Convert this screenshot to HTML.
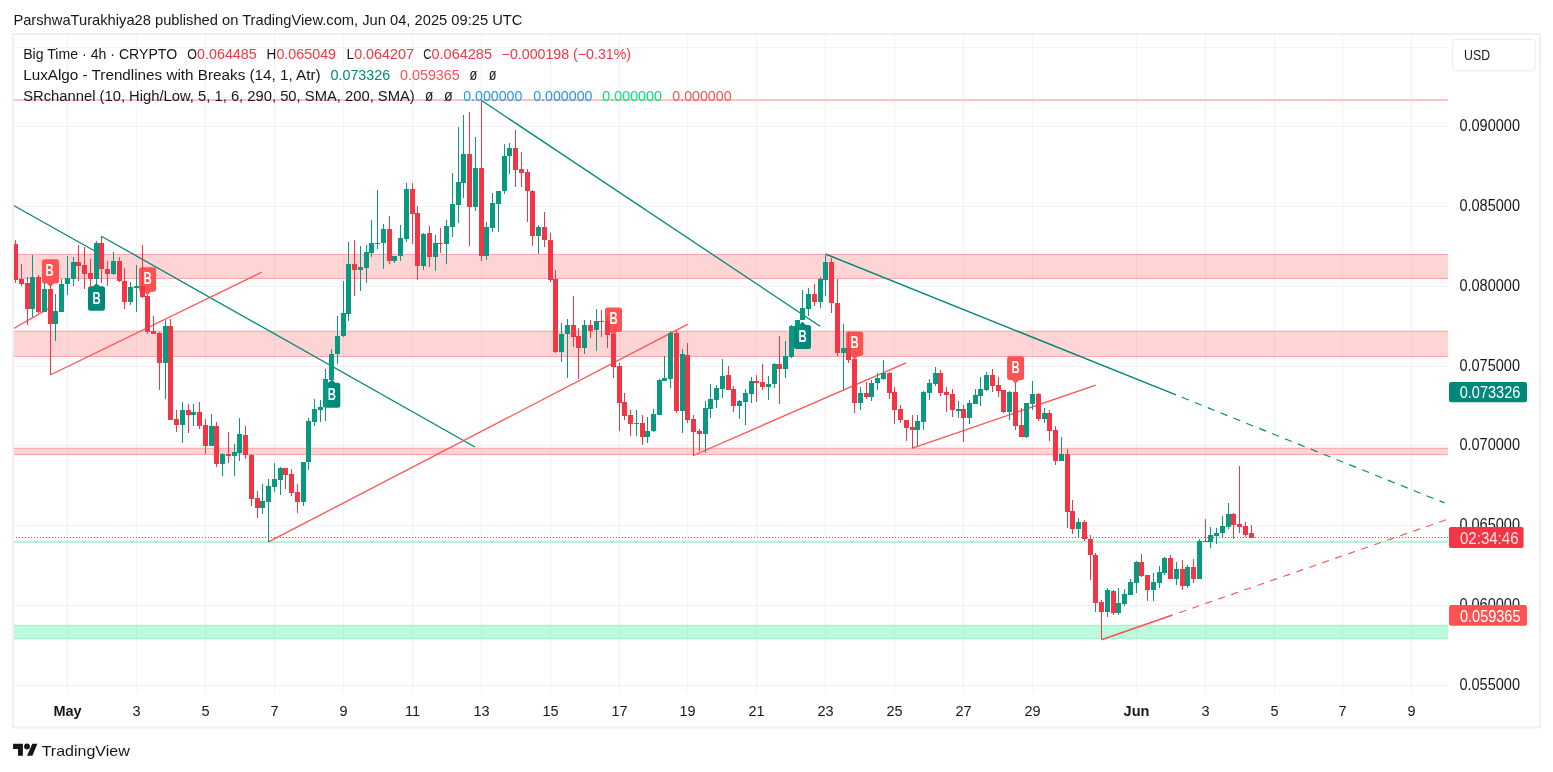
<!DOCTYPE html>
<html><head><meta charset="utf-8"><title>Chart</title><style>html,body{margin:0;padding:0;background:#fff}body{width:1553px;height:772px;overflow:hidden}svg{will-change:transform}</style></head><body>
<svg width="1553" height="772" viewBox="0 0 1553 772" style="display:block">
<rect width="1553" height="772" fill="#fff"/>
<g stroke="rgba(19,23,34,0.052)" stroke-width="1" shape-rendering="crispEdges">
<line x1="67.5" y1="34" x2="67.5" y2="693"/>
<line x1="136.5" y1="34" x2="136.5" y2="693"/>
<line x1="205.5" y1="34" x2="205.5" y2="693"/>
<line x1="274.5" y1="34" x2="274.5" y2="693"/>
<line x1="343.5" y1="34" x2="343.5" y2="693"/>
<line x1="412.5" y1="34" x2="412.5" y2="693"/>
<line x1="481.5" y1="34" x2="481.5" y2="693"/>
<line x1="550.5" y1="34" x2="550.5" y2="693"/>
<line x1="619.5" y1="34" x2="619.5" y2="693"/>
<line x1="687.5" y1="34" x2="687.5" y2="693"/>
<line x1="756.5" y1="34" x2="756.5" y2="693"/>
<line x1="825.5" y1="34" x2="825.5" y2="693"/>
<line x1="894.5" y1="34" x2="894.5" y2="693"/>
<line x1="963.5" y1="34" x2="963.5" y2="693"/>
<line x1="1032.5" y1="34" x2="1032.5" y2="693"/>
<line x1="1136.5" y1="34" x2="1136.5" y2="693"/>
<line x1="1205.5" y1="34" x2="1205.5" y2="693"/>
<line x1="1274.5" y1="34" x2="1274.5" y2="693"/>
<line x1="1342.5" y1="34" x2="1342.5" y2="693"/>
<line x1="1411.5" y1="34" x2="1411.5" y2="693"/>
<line x1="13" y1="47.5" x2="1448" y2="47.5"/>
<line x1="13" y1="126.5" x2="1448" y2="126.5"/>
<line x1="13" y1="206.5" x2="1448" y2="206.5"/>
<line x1="13" y1="286.5" x2="1448" y2="286.5"/>
<line x1="13" y1="366.5" x2="1448" y2="366.5"/>
<line x1="13" y1="445.5" x2="1448" y2="445.5"/>
<line x1="13" y1="525.5" x2="1448" y2="525.5"/>
<line x1="13" y1="605.5" x2="1448" y2="605.5"/>
<line x1="13" y1="685.5" x2="1448" y2="685.5"/>
</g>
<rect x="13" y="99" width="1435" height="2" fill="#fbc3c3"/>
<rect x="13" y="254.5" width="1435" height="24.0" fill="rgba(255,82,82,0.25)"/>
<line x1="13" y1="254.5" x2="1448" y2="254.5" stroke="rgba(255,82,82,0.45)" stroke-width="1"/>
<line x1="13" y1="278.5" x2="1448" y2="278.5" stroke="rgba(255,82,82,0.45)" stroke-width="1"/>
<rect x="13" y="331.2" width="1435" height="25.30000000000001" fill="rgba(255,82,82,0.25)"/>
<line x1="13" y1="331.2" x2="1448" y2="331.2" stroke="rgba(255,82,82,0.45)" stroke-width="1"/>
<line x1="13" y1="356.5" x2="1448" y2="356.5" stroke="rgba(255,82,82,0.45)" stroke-width="1"/>
<rect x="13" y="448.2" width="1435" height="6.400000000000034" fill="rgba(255,82,82,0.25)"/>
<line x1="13" y1="448.2" x2="1448" y2="448.2" stroke="rgba(255,82,82,0.45)" stroke-width="1"/>
<line x1="13" y1="454.6" x2="1448" y2="454.6" stroke="rgba(255,82,82,0.45)" stroke-width="1"/>
<rect x="13" y="541" width="1435" height="2" fill="#b7f5d8"/>
<rect x="13" y="625.3" width="1435" height="13.400000000000091" fill="rgba(0,230,118,0.26)"/>
<line x1="13" y1="625.3" x2="1448" y2="625.3" stroke="rgba(0,230,118,0.3)" stroke-width="1"/>
<line x1="13" y1="638.7" x2="1448" y2="638.7" stroke="rgba(0,230,118,0.3)" stroke-width="1"/>
<line x1="13.2" y1="205.3" x2="97" y2="252.2" stroke="#00897b" stroke-width="1.3"/>
<line x1="101.4" y1="236.2" x2="475" y2="447" stroke="#00897b" stroke-width="1.3"/>
<line x1="481.6" y1="100.5" x2="820.1" y2="326.2" stroke="#00897b" stroke-width="1.3"/>
<line x1="825.5" y1="254" x2="1176" y2="394.95" stroke="#00897b" stroke-width="1.45"/>
<line x1="1181.9" y1="397.3" x2="1444.5" y2="502.9" stroke="#00897b" stroke-width="1.15" stroke-dasharray="7.4 6.48"/>
<line x1="12.9" y1="329" x2="50.25" y2="307.6" stroke="#ff5252" stroke-width="1.3"/>
<line x1="50.25" y1="375" x2="262" y2="272" stroke="#ff5252" stroke-width="1.3"/>
<line x1="268.5" y1="541.9" x2="688" y2="324.2" stroke="#ff5252" stroke-width="1.3"/>
<line x1="693.3" y1="455.5" x2="906" y2="362.8" stroke="#ff5252" stroke-width="1.3"/>
<line x1="911.7" y1="448.4" x2="1095.8" y2="385.1" stroke="#ff5252" stroke-width="1.3"/>
<line x1="1101.5" y1="639.8" x2="1172.6" y2="615.0" stroke="#ff5252" stroke-width="1.7"/>
<line x1="1179.3" y1="612.7" x2="1446" y2="519.8" stroke="#ff5252" stroke-width="1.15" stroke-dasharray="7.2 6.56"/>
<path d="M44.5,259.2 H56.5 Q59.0,259.2 59.0,261.7 V281.0 Q59.0,283.5 56.5,283.5 H54.0 L50.5,287 L47.0,283.5 H44.5 Q42.0,283.5 42.0,281.0 V261.7 Q42.0,259.2 44.5,259.2 Z" fill="#ff5252" fill-opacity="1"/>
<text x="45.5" y="275.65000000000003" font-family="Liberation Sans, sans-serif" font-size="16" font-weight="bold" fill="#fff" textLength="8.2" lengthAdjust="spacingAndGlyphs">B</text>
<path d="M141.6,267.2 H153.6 Q156.1,267.2 156.1,269.7 V289.2 Q156.1,291.7 153.6,291.7 H151.1 L147.6,295 L144.1,291.7 H141.6 Q139.1,291.7 139.1,289.2 V269.7 Q139.1,267.2 141.6,267.2 Z" fill="#ff5252" fill-opacity="1"/>
<text x="143.5" y="283.75" font-family="Liberation Sans, sans-serif" font-size="16" font-weight="bold" fill="#fff" textLength="8.2" lengthAdjust="spacingAndGlyphs">B</text>
<path d="M607.5,307.4 H619.5 Q622.0,307.4 622.0,309.9 V329.5 Q622.0,332 619.5,332 H617.0 L613.5,335.5 L610.0,332 H607.5 Q605.0,332 605.0,329.5 V309.9 Q605.0,307.4 607.5,307.4 Z" fill="#ff5252" fill-opacity="1"/>
<text x="609.4" y="324.0" font-family="Liberation Sans, sans-serif" font-size="16" font-weight="bold" fill="#fff" textLength="8.2" lengthAdjust="spacingAndGlyphs">B</text>
<path d="M848.6,331.4 H860.6 Q863.1,331.4 863.1,333.9 V353.4 Q863.1,355.9 860.6,355.9 H858.1 L854.6,359.4 L851.1,355.9 H848.6 Q846.1,355.9 846.1,353.4 V333.9 Q846.1,331.4 848.6,331.4 Z" fill="#ff5252" fill-opacity="1"/>
<text x="850.5" y="347.95" font-family="Liberation Sans, sans-serif" font-size="16" font-weight="bold" fill="#fff" textLength="8.2" lengthAdjust="spacingAndGlyphs">B</text>
<path d="M1009.6,356.3 H1021.5999999999999 Q1024.1,356.3 1024.1,358.8 V377.6 Q1024.1,380.1 1021.5999999999999,380.1 H1019.1 L1015.6,383.6 L1012.1,380.1 H1009.6 Q1007.1,380.1 1007.1,377.6 V358.8 Q1007.1,356.3 1009.6,356.3 Z" fill="#ff5252" fill-opacity="1"/>
<text x="1011.5" y="372.50000000000006" font-family="Liberation Sans, sans-serif" font-size="16" font-weight="bold" fill="#fff" textLength="8.2" lengthAdjust="spacingAndGlyphs">B</text>
<path d="M90.5,286.3 H93.0 L96.5,283.5 L100.0,286.3 H102.5 Q105.0,286.3 105.0,288.8 V308.2 Q105.0,310.7 102.5,310.7 H90.5 Q88.0,310.7 88.0,308.2 V288.8 Q88.0,286.3 90.5,286.3 Z" fill="#00897b" fill-opacity="1"/>
<text x="92.4" y="303.5" font-family="Liberation Sans, sans-serif" font-size="16" font-weight="bold" fill="#fff" textLength="8.2" lengthAdjust="spacingAndGlyphs">B</text>
<path d="M325.8,382.8 H328.3 L331.8,379.5 L335.3,382.8 H337.8 Q340.3,382.8 340.3,385.3 V405.2 Q340.3,407.7 337.8,407.7 H325.8 Q323.3,407.7 323.3,405.2 V385.3 Q323.3,382.8 325.8,382.8 Z" fill="#00897b" fill-opacity="1"/>
<text x="327.7" y="400.25" font-family="Liberation Sans, sans-serif" font-size="16" font-weight="bold" fill="#fff" textLength="8.2" lengthAdjust="spacingAndGlyphs">B</text>
<path d="M796.5,325 H799.0 L802.5,321.8 L806.0,325 H808.5 Q811.0,325 811.0,327.5 V346.5 Q811.0,349 808.5,349 H796.5 Q794.0,349 794.0,346.5 V327.5 Q794.0,325 796.5,325 Z" fill="#00897b" fill-opacity="1"/>
<text x="798.4" y="342.0" font-family="Liberation Sans, sans-serif" font-size="16" font-weight="bold" fill="#fff" textLength="8.2" lengthAdjust="spacingAndGlyphs">B</text>
<g shape-rendering="crispEdges">
<rect x="15" y="240" width="1" height="43" fill="#f23645"/>
<rect x="13" y="244" width="5" height="36" fill="#f23645"/>
<rect x="21" y="264" width="1" height="22" fill="#f23645"/>
<rect x="19" y="279" width="5" height="5" fill="#f23645"/>
<rect x="27" y="277" width="1" height="48" fill="#f23645"/>
<rect x="25" y="283" width="5" height="26" fill="#f23645"/>
<rect x="32" y="255" width="1" height="62" fill="#089981"/>
<rect x="30" y="277" width="5" height="32" fill="#089981"/>
<rect x="38" y="275" width="1" height="38" fill="#f23645"/>
<rect x="36" y="277" width="5" height="35" fill="#f23645"/>
<rect x="44" y="283" width="1" height="29" fill="#089981"/>
<rect x="42" y="289" width="5" height="23" fill="#089981"/>
<rect x="50" y="286" width="1" height="89" fill="#f23645"/>
<rect x="48" y="289" width="5" height="35" fill="#f23645"/>
<rect x="55" y="294" width="1" height="47" fill="#089981"/>
<rect x="53" y="311" width="5" height="13" fill="#089981"/>
<rect x="61" y="279" width="1" height="33" fill="#089981"/>
<rect x="59" y="284" width="5" height="28" fill="#089981"/>
<rect x="67" y="256" width="1" height="39" fill="#089981"/>
<rect x="65" y="278" width="5" height="6" fill="#089981"/>
<rect x="73" y="257" width="1" height="29" fill="#089981"/>
<rect x="71" y="262" width="5" height="17" fill="#089981"/>
<rect x="78" y="245" width="1" height="36" fill="#f23645"/>
<rect x="76" y="262" width="5" height="4" fill="#f23645"/>
<rect x="84" y="247" width="1" height="42" fill="#f23645"/>
<rect x="82" y="265" width="5" height="9" fill="#f23645"/>
<rect x="90" y="259" width="1" height="29" fill="#f23645"/>
<rect x="88" y="273" width="5" height="6" fill="#f23645"/>
<rect x="96" y="241" width="1" height="43" fill="#089981"/>
<rect x="94" y="243" width="5" height="36" fill="#089981"/>
<rect x="101" y="236" width="1" height="47" fill="#f23645"/>
<rect x="99" y="243" width="5" height="26" fill="#f23645"/>
<rect x="107" y="261" width="1" height="25" fill="#f23645"/>
<rect x="105" y="269" width="5" height="5" fill="#f23645"/>
<rect x="113" y="252" width="1" height="23" fill="#089981"/>
<rect x="111" y="261" width="5" height="13" fill="#089981"/>
<rect x="119" y="257" width="1" height="25" fill="#f23645"/>
<rect x="117" y="261" width="5" height="20" fill="#f23645"/>
<rect x="124" y="268" width="1" height="41" fill="#f23645"/>
<rect x="122" y="281" width="5" height="21" fill="#f23645"/>
<rect x="130" y="282" width="1" height="23" fill="#089981"/>
<rect x="128" y="287" width="5" height="15" fill="#089981"/>
<rect x="136" y="265" width="1" height="47" fill="#089981"/>
<rect x="134" y="286" width="5" height="2" fill="#089981"/>
<rect x="142" y="245" width="1" height="53" fill="#f23645"/>
<rect x="140" y="286" width="5" height="11" fill="#f23645"/>
<rect x="147" y="295" width="1" height="39" fill="#f23645"/>
<rect x="145" y="296" width="5" height="36" fill="#f23645"/>
<rect x="153" y="316" width="1" height="18" fill="#f23645"/>
<rect x="151" y="331" width="5" height="3" fill="#f23645"/>
<rect x="159" y="332" width="1" height="58" fill="#f23645"/>
<rect x="157" y="333" width="5" height="30" fill="#f23645"/>
<rect x="165" y="320" width="1" height="79" fill="#089981"/>
<rect x="163" y="326" width="5" height="37" fill="#089981"/>
<rect x="170" y="319" width="1" height="101" fill="#f23645"/>
<rect x="168" y="326" width="5" height="94" fill="#f23645"/>
<rect x="176" y="410" width="1" height="22" fill="#f23645"/>
<rect x="174" y="419" width="5" height="6" fill="#f23645"/>
<rect x="182" y="402" width="1" height="41" fill="#089981"/>
<rect x="180" y="410" width="5" height="15" fill="#089981"/>
<rect x="188" y="404" width="1" height="29" fill="#f23645"/>
<rect x="186" y="410" width="5" height="5" fill="#f23645"/>
<rect x="193" y="404" width="1" height="22" fill="#089981"/>
<rect x="191" y="412" width="5" height="3" fill="#089981"/>
<rect x="199" y="402" width="1" height="27" fill="#f23645"/>
<rect x="197" y="412" width="5" height="14" fill="#f23645"/>
<rect x="205" y="419" width="1" height="35" fill="#f23645"/>
<rect x="203" y="425" width="5" height="21" fill="#f23645"/>
<rect x="211" y="414" width="1" height="32" fill="#089981"/>
<rect x="209" y="426" width="5" height="20" fill="#089981"/>
<rect x="216" y="422" width="1" height="45" fill="#f23645"/>
<rect x="214" y="426" width="5" height="38" fill="#f23645"/>
<rect x="222" y="453" width="1" height="23" fill="#089981"/>
<rect x="220" y="454" width="5" height="10" fill="#089981"/>
<rect x="228" y="432" width="1" height="31" fill="#f23645"/>
<rect x="226" y="454" width="5" height="2" fill="#f23645"/>
<rect x="234" y="444" width="1" height="32" fill="#089981"/>
<rect x="232" y="452" width="5" height="4" fill="#089981"/>
<rect x="239" y="418" width="1" height="43" fill="#089981"/>
<rect x="237" y="434" width="5" height="19" fill="#089981"/>
<rect x="245" y="426" width="1" height="33" fill="#f23645"/>
<rect x="243" y="435" width="5" height="20" fill="#f23645"/>
<rect x="251" y="454" width="1" height="52" fill="#f23645"/>
<rect x="249" y="455" width="5" height="44" fill="#f23645"/>
<rect x="257" y="491" width="1" height="27" fill="#f23645"/>
<rect x="255" y="498" width="5" height="10" fill="#f23645"/>
<rect x="262" y="484" width="1" height="30" fill="#089981"/>
<rect x="260" y="501" width="5" height="7" fill="#089981"/>
<rect x="268" y="479" width="1" height="63" fill="#089981"/>
<rect x="266" y="486" width="5" height="16" fill="#089981"/>
<rect x="274" y="463" width="1" height="29" fill="#089981"/>
<rect x="272" y="479" width="5" height="8" fill="#089981"/>
<rect x="280" y="467" width="1" height="28" fill="#089981"/>
<rect x="278" y="468" width="5" height="12" fill="#089981"/>
<rect x="285" y="468" width="1" height="21" fill="#f23645"/>
<rect x="283" y="468" width="5" height="7" fill="#f23645"/>
<rect x="291" y="469" width="1" height="27" fill="#f23645"/>
<rect x="289" y="474" width="5" height="19" fill="#f23645"/>
<rect x="297" y="484" width="1" height="29" fill="#f23645"/>
<rect x="295" y="492" width="5" height="10" fill="#f23645"/>
<rect x="303" y="462" width="1" height="44" fill="#089981"/>
<rect x="301" y="462" width="5" height="40" fill="#089981"/>
<rect x="308" y="418" width="1" height="52" fill="#089981"/>
<rect x="306" y="421" width="5" height="41" fill="#089981"/>
<rect x="314" y="399" width="1" height="27" fill="#089981"/>
<rect x="312" y="409" width="5" height="13" fill="#089981"/>
<rect x="320" y="400" width="1" height="22" fill="#089981"/>
<rect x="318" y="407" width="5" height="3" fill="#089981"/>
<rect x="325" y="369" width="1" height="52" fill="#089981"/>
<rect x="323" y="379" width="5" height="28" fill="#089981"/>
<rect x="331" y="349" width="1" height="31" fill="#089981"/>
<rect x="329" y="354" width="5" height="26" fill="#089981"/>
<rect x="337" y="316" width="1" height="48" fill="#089981"/>
<rect x="335" y="336" width="5" height="18" fill="#089981"/>
<rect x="343" y="281" width="1" height="56" fill="#089981"/>
<rect x="341" y="313" width="5" height="23" fill="#089981"/>
<rect x="348" y="242" width="1" height="79" fill="#089981"/>
<rect x="346" y="264" width="5" height="50" fill="#089981"/>
<rect x="354" y="240" width="1" height="56" fill="#f23645"/>
<rect x="352" y="264" width="5" height="6" fill="#f23645"/>
<rect x="360" y="246" width="1" height="45" fill="#089981"/>
<rect x="358" y="267" width="5" height="3" fill="#089981"/>
<rect x="366" y="245" width="1" height="38" fill="#089981"/>
<rect x="364" y="252" width="5" height="16" fill="#089981"/>
<rect x="371" y="220" width="1" height="37" fill="#089981"/>
<rect x="369" y="243" width="5" height="10" fill="#089981"/>
<rect x="377" y="190" width="1" height="59" fill="#089981"/>
<rect x="375" y="243" width="5" height="1" fill="#089981"/>
<rect x="383" y="224" width="1" height="45" fill="#089981"/>
<rect x="381" y="229" width="5" height="14" fill="#089981"/>
<rect x="389" y="216" width="1" height="48" fill="#f23645"/>
<rect x="387" y="229" width="5" height="32" fill="#f23645"/>
<rect x="394" y="256" width="1" height="7" fill="#089981"/>
<rect x="392" y="256" width="5" height="5" fill="#089981"/>
<rect x="400" y="225" width="1" height="36" fill="#089981"/>
<rect x="398" y="238" width="5" height="18" fill="#089981"/>
<rect x="406" y="183" width="1" height="59" fill="#089981"/>
<rect x="404" y="189" width="5" height="50" fill="#089981"/>
<rect x="412" y="183" width="1" height="61" fill="#f23645"/>
<rect x="410" y="189" width="5" height="25" fill="#f23645"/>
<rect x="417" y="206" width="1" height="74" fill="#f23645"/>
<rect x="415" y="213" width="5" height="53" fill="#f23645"/>
<rect x="423" y="233" width="1" height="37" fill="#089981"/>
<rect x="421" y="234" width="5" height="32" fill="#089981"/>
<rect x="429" y="226" width="1" height="41" fill="#f23645"/>
<rect x="427" y="233" width="5" height="24" fill="#f23645"/>
<rect x="435" y="235" width="1" height="36" fill="#089981"/>
<rect x="433" y="243" width="5" height="14" fill="#089981"/>
<rect x="440" y="228" width="1" height="25" fill="#f23645"/>
<rect x="438" y="243" width="5" height="1" fill="#f23645"/>
<rect x="446" y="220" width="1" height="44" fill="#089981"/>
<rect x="444" y="226" width="5" height="18" fill="#089981"/>
<rect x="452" y="173" width="1" height="64" fill="#089981"/>
<rect x="450" y="204" width="5" height="23" fill="#089981"/>
<rect x="458" y="127" width="1" height="96" fill="#089981"/>
<rect x="456" y="182" width="5" height="23" fill="#089981"/>
<rect x="463" y="115" width="1" height="83" fill="#089981"/>
<rect x="461" y="154" width="5" height="29" fill="#089981"/>
<rect x="469" y="112" width="1" height="134" fill="#f23645"/>
<rect x="467" y="154" width="5" height="53" fill="#f23645"/>
<rect x="475" y="137" width="1" height="74" fill="#089981"/>
<rect x="473" y="168" width="5" height="39" fill="#089981"/>
<rect x="481" y="101" width="1" height="160" fill="#f23645"/>
<rect x="479" y="168" width="5" height="88" fill="#f23645"/>
<rect x="486" y="222" width="1" height="38" fill="#089981"/>
<rect x="484" y="227" width="5" height="29" fill="#089981"/>
<rect x="492" y="193" width="1" height="39" fill="#089981"/>
<rect x="490" y="203" width="5" height="25" fill="#089981"/>
<rect x="498" y="191" width="1" height="41" fill="#089981"/>
<rect x="496" y="191" width="5" height="13" fill="#089981"/>
<rect x="504" y="144" width="1" height="50" fill="#089981"/>
<rect x="502" y="156" width="5" height="35" fill="#089981"/>
<rect x="509" y="143" width="1" height="31" fill="#089981"/>
<rect x="507" y="148" width="5" height="8" fill="#089981"/>
<rect x="515" y="130" width="1" height="57" fill="#f23645"/>
<rect x="513" y="148" width="5" height="22" fill="#f23645"/>
<rect x="521" y="152" width="1" height="35" fill="#f23645"/>
<rect x="519" y="169" width="5" height="4" fill="#f23645"/>
<rect x="527" y="169" width="1" height="53" fill="#f23645"/>
<rect x="525" y="172" width="5" height="19" fill="#f23645"/>
<rect x="532" y="190" width="1" height="56" fill="#f23645"/>
<rect x="530" y="191" width="5" height="45" fill="#f23645"/>
<rect x="538" y="225" width="1" height="29" fill="#089981"/>
<rect x="536" y="227" width="5" height="9" fill="#089981"/>
<rect x="544" y="212" width="1" height="35" fill="#f23645"/>
<rect x="542" y="227" width="5" height="13" fill="#f23645"/>
<rect x="550" y="233" width="1" height="49" fill="#f23645"/>
<rect x="548" y="240" width="5" height="40" fill="#f23645"/>
<rect x="555" y="270" width="1" height="83" fill="#f23645"/>
<rect x="553" y="279" width="5" height="73" fill="#f23645"/>
<rect x="561" y="323" width="1" height="39" fill="#089981"/>
<rect x="559" y="334" width="5" height="18" fill="#089981"/>
<rect x="567" y="319" width="1" height="59" fill="#089981"/>
<rect x="565" y="325" width="5" height="9" fill="#089981"/>
<rect x="573" y="296" width="1" height="51" fill="#f23645"/>
<rect x="571" y="325" width="5" height="12" fill="#f23645"/>
<rect x="578" y="328" width="1" height="51" fill="#f23645"/>
<rect x="576" y="336" width="5" height="12" fill="#f23645"/>
<rect x="584" y="320" width="1" height="34" fill="#089981"/>
<rect x="582" y="325" width="5" height="23" fill="#089981"/>
<rect x="590" y="320" width="1" height="18" fill="#f23645"/>
<rect x="588" y="325" width="5" height="6" fill="#f23645"/>
<rect x="596" y="309" width="1" height="42" fill="#089981"/>
<rect x="594" y="321" width="5" height="9" fill="#089981"/>
<rect x="601" y="310" width="1" height="27" fill="#f23645"/>
<rect x="599" y="321" width="5" height="1" fill="#f23645"/>
<rect x="607" y="317" width="1" height="31" fill="#f23645"/>
<rect x="605" y="321" width="5" height="14" fill="#f23645"/>
<rect x="613" y="333" width="1" height="45" fill="#f23645"/>
<rect x="611" y="334" width="5" height="33" fill="#f23645"/>
<rect x="619" y="363" width="1" height="68" fill="#f23645"/>
<rect x="617" y="366" width="5" height="37" fill="#f23645"/>
<rect x="624" y="393" width="1" height="27" fill="#f23645"/>
<rect x="622" y="402" width="5" height="14" fill="#f23645"/>
<rect x="630" y="410" width="1" height="26" fill="#f23645"/>
<rect x="628" y="415" width="5" height="9" fill="#f23645"/>
<rect x="636" y="410" width="1" height="26" fill="#089981"/>
<rect x="634" y="423" width="5" height="1" fill="#089981"/>
<rect x="642" y="415" width="1" height="30" fill="#f23645"/>
<rect x="640" y="423" width="5" height="14" fill="#f23645"/>
<rect x="647" y="417" width="1" height="26" fill="#089981"/>
<rect x="645" y="431" width="5" height="6" fill="#089981"/>
<rect x="653" y="409" width="1" height="23" fill="#089981"/>
<rect x="651" y="414" width="5" height="17" fill="#089981"/>
<rect x="659" y="379" width="1" height="36" fill="#089981"/>
<rect x="657" y="380" width="5" height="35" fill="#089981"/>
<rect x="664" y="356" width="1" height="25" fill="#089981"/>
<rect x="662" y="378" width="5" height="3" fill="#089981"/>
<rect x="670" y="331" width="1" height="57" fill="#089981"/>
<rect x="668" y="333" width="5" height="46" fill="#089981"/>
<rect x="676" y="331" width="1" height="82" fill="#f23645"/>
<rect x="674" y="333" width="5" height="78" fill="#f23645"/>
<rect x="682" y="349" width="1" height="84" fill="#089981"/>
<rect x="680" y="354" width="5" height="57" fill="#089981"/>
<rect x="687" y="343" width="1" height="80" fill="#f23645"/>
<rect x="685" y="355" width="5" height="65" fill="#f23645"/>
<rect x="693" y="415" width="1" height="41" fill="#f23645"/>
<rect x="691" y="419" width="5" height="13" fill="#f23645"/>
<rect x="699" y="429" width="1" height="22" fill="#f23645"/>
<rect x="697" y="431" width="5" height="3" fill="#f23645"/>
<rect x="705" y="401" width="1" height="52" fill="#089981"/>
<rect x="703" y="408" width="5" height="26" fill="#089981"/>
<rect x="710" y="384" width="1" height="34" fill="#089981"/>
<rect x="708" y="399" width="5" height="10" fill="#089981"/>
<rect x="716" y="385" width="1" height="23" fill="#089981"/>
<rect x="714" y="388" width="5" height="12" fill="#089981"/>
<rect x="722" y="359" width="1" height="39" fill="#089981"/>
<rect x="720" y="376" width="5" height="13" fill="#089981"/>
<rect x="728" y="366" width="1" height="24" fill="#f23645"/>
<rect x="726" y="375" width="5" height="15" fill="#f23645"/>
<rect x="733" y="386" width="1" height="26" fill="#f23645"/>
<rect x="731" y="389" width="5" height="17" fill="#f23645"/>
<rect x="739" y="400" width="1" height="19" fill="#089981"/>
<rect x="737" y="401" width="5" height="5" fill="#089981"/>
<rect x="745" y="389" width="1" height="36" fill="#089981"/>
<rect x="743" y="393" width="5" height="9" fill="#089981"/>
<rect x="751" y="377" width="1" height="26" fill="#089981"/>
<rect x="749" y="381" width="5" height="13" fill="#089981"/>
<rect x="756" y="375" width="1" height="27" fill="#f23645"/>
<rect x="754" y="381" width="5" height="2" fill="#f23645"/>
<rect x="762" y="364" width="1" height="26" fill="#f23645"/>
<rect x="760" y="382" width="5" height="5" fill="#f23645"/>
<rect x="768" y="376" width="1" height="24" fill="#089981"/>
<rect x="766" y="384" width="5" height="3" fill="#089981"/>
<rect x="774" y="363" width="1" height="25" fill="#089981"/>
<rect x="772" y="364" width="5" height="20" fill="#089981"/>
<rect x="779" y="336" width="1" height="68" fill="#f23645"/>
<rect x="777" y="364" width="5" height="5" fill="#f23645"/>
<rect x="785" y="341" width="1" height="37" fill="#089981"/>
<rect x="783" y="356" width="5" height="13" fill="#089981"/>
<rect x="791" y="325" width="1" height="33" fill="#089981"/>
<rect x="789" y="326" width="5" height="31" fill="#089981"/>
<rect x="797" y="320" width="1" height="19" fill="#089981"/>
<rect x="795" y="320" width="5" height="7" fill="#089981"/>
<rect x="802" y="290" width="1" height="30" fill="#089981"/>
<rect x="800" y="308" width="5" height="12" fill="#089981"/>
<rect x="808" y="288" width="1" height="28" fill="#089981"/>
<rect x="806" y="294" width="5" height="15" fill="#089981"/>
<rect x="814" y="284" width="1" height="22" fill="#f23645"/>
<rect x="812" y="294" width="5" height="8" fill="#f23645"/>
<rect x="820" y="277" width="1" height="31" fill="#089981"/>
<rect x="818" y="279" width="5" height="23" fill="#089981"/>
<rect x="825" y="255" width="1" height="41" fill="#089981"/>
<rect x="823" y="262" width="5" height="18" fill="#089981"/>
<rect x="831" y="258" width="1" height="55" fill="#f23645"/>
<rect x="829" y="262" width="5" height="41" fill="#f23645"/>
<rect x="837" y="279" width="1" height="77" fill="#f23645"/>
<rect x="835" y="303" width="5" height="50" fill="#f23645"/>
<rect x="843" y="324" width="1" height="66" fill="#089981"/>
<rect x="841" y="348" width="5" height="5" fill="#089981"/>
<rect x="848" y="332" width="1" height="31" fill="#f23645"/>
<rect x="846" y="348" width="5" height="12" fill="#f23645"/>
<rect x="854" y="358" width="1" height="55" fill="#f23645"/>
<rect x="852" y="359" width="5" height="44" fill="#f23645"/>
<rect x="860" y="387" width="1" height="23" fill="#089981"/>
<rect x="858" y="393" width="5" height="10" fill="#089981"/>
<rect x="866" y="382" width="1" height="17" fill="#f23645"/>
<rect x="864" y="393" width="5" height="4" fill="#f23645"/>
<rect x="871" y="380" width="1" height="21" fill="#089981"/>
<rect x="869" y="383" width="5" height="14" fill="#089981"/>
<rect x="877" y="373" width="1" height="17" fill="#089981"/>
<rect x="875" y="378" width="5" height="5" fill="#089981"/>
<rect x="883" y="360" width="1" height="20" fill="#089981"/>
<rect x="881" y="373" width="5" height="6" fill="#089981"/>
<rect x="889" y="372" width="1" height="27" fill="#f23645"/>
<rect x="887" y="373" width="5" height="20" fill="#f23645"/>
<rect x="894" y="387" width="1" height="37" fill="#f23645"/>
<rect x="892" y="392" width="5" height="18" fill="#f23645"/>
<rect x="900" y="405" width="1" height="18" fill="#f23645"/>
<rect x="898" y="409" width="5" height="11" fill="#f23645"/>
<rect x="906" y="420" width="1" height="21" fill="#f23645"/>
<rect x="904" y="420" width="5" height="8" fill="#f23645"/>
<rect x="912" y="415" width="1" height="33" fill="#f23645"/>
<rect x="910" y="427" width="5" height="3" fill="#f23645"/>
<rect x="917" y="415" width="1" height="31" fill="#089981"/>
<rect x="915" y="421" width="5" height="9" fill="#089981"/>
<rect x="923" y="391" width="1" height="39" fill="#089981"/>
<rect x="921" y="392" width="5" height="30" fill="#089981"/>
<rect x="929" y="379" width="1" height="21" fill="#089981"/>
<rect x="927" y="383" width="5" height="10" fill="#089981"/>
<rect x="935" y="367" width="1" height="19" fill="#089981"/>
<rect x="933" y="373" width="5" height="11" fill="#089981"/>
<rect x="940" y="370" width="1" height="26" fill="#f23645"/>
<rect x="938" y="373" width="5" height="20" fill="#f23645"/>
<rect x="946" y="387" width="1" height="25" fill="#f23645"/>
<rect x="944" y="392" width="5" height="3" fill="#f23645"/>
<rect x="952" y="389" width="1" height="28" fill="#f23645"/>
<rect x="950" y="394" width="5" height="16" fill="#f23645"/>
<rect x="958" y="401" width="1" height="17" fill="#089981"/>
<rect x="956" y="409" width="5" height="2" fill="#089981"/>
<rect x="963" y="405" width="1" height="37" fill="#f23645"/>
<rect x="961" y="409" width="5" height="9" fill="#f23645"/>
<rect x="969" y="400" width="1" height="24" fill="#089981"/>
<rect x="967" y="403" width="5" height="15" fill="#089981"/>
<rect x="975" y="389" width="1" height="15" fill="#089981"/>
<rect x="973" y="395" width="5" height="9" fill="#089981"/>
<rect x="980" y="377" width="1" height="29" fill="#089981"/>
<rect x="978" y="389" width="5" height="7" fill="#089981"/>
<rect x="986" y="372" width="1" height="19" fill="#089981"/>
<rect x="984" y="375" width="5" height="15" fill="#089981"/>
<rect x="992" y="369" width="1" height="23" fill="#f23645"/>
<rect x="990" y="375" width="5" height="11" fill="#f23645"/>
<rect x="998" y="377" width="1" height="20" fill="#f23645"/>
<rect x="996" y="385" width="5" height="6" fill="#f23645"/>
<rect x="1003" y="390" width="1" height="23" fill="#f23645"/>
<rect x="1001" y="390" width="5" height="22" fill="#f23645"/>
<rect x="1009" y="391" width="1" height="29" fill="#089981"/>
<rect x="1007" y="392" width="5" height="20" fill="#089981"/>
<rect x="1015" y="382" width="1" height="48" fill="#f23645"/>
<rect x="1013" y="392" width="5" height="34" fill="#f23645"/>
<rect x="1021" y="408" width="1" height="29" fill="#f23645"/>
<rect x="1019" y="425" width="5" height="12" fill="#f23645"/>
<rect x="1026" y="403" width="1" height="35" fill="#089981"/>
<rect x="1024" y="403" width="5" height="34" fill="#089981"/>
<rect x="1032" y="381" width="1" height="29" fill="#089981"/>
<rect x="1030" y="394" width="5" height="10" fill="#089981"/>
<rect x="1038" y="393" width="1" height="28" fill="#f23645"/>
<rect x="1036" y="394" width="5" height="25" fill="#f23645"/>
<rect x="1044" y="408" width="1" height="15" fill="#089981"/>
<rect x="1042" y="413" width="5" height="6" fill="#089981"/>
<rect x="1049" y="410" width="1" height="31" fill="#f23645"/>
<rect x="1047" y="413" width="5" height="18" fill="#f23645"/>
<rect x="1055" y="426" width="1" height="39" fill="#f23645"/>
<rect x="1053" y="430" width="5" height="31" fill="#f23645"/>
<rect x="1061" y="437" width="1" height="24" fill="#089981"/>
<rect x="1059" y="454" width="5" height="7" fill="#089981"/>
<rect x="1067" y="449" width="1" height="79" fill="#f23645"/>
<rect x="1065" y="454" width="5" height="58" fill="#f23645"/>
<rect x="1072" y="500" width="1" height="34" fill="#f23645"/>
<rect x="1070" y="511" width="5" height="18" fill="#f23645"/>
<rect x="1078" y="518" width="1" height="19" fill="#089981"/>
<rect x="1076" y="522" width="5" height="7" fill="#089981"/>
<rect x="1084" y="520" width="1" height="21" fill="#f23645"/>
<rect x="1082" y="522" width="5" height="17" fill="#f23645"/>
<rect x="1090" y="535" width="1" height="45" fill="#f23645"/>
<rect x="1088" y="539" width="5" height="16" fill="#f23645"/>
<rect x="1095" y="553" width="1" height="59" fill="#f23645"/>
<rect x="1093" y="555" width="5" height="48" fill="#f23645"/>
<rect x="1101" y="600" width="1" height="39" fill="#f23645"/>
<rect x="1099" y="602" width="5" height="10" fill="#f23645"/>
<rect x="1107" y="588" width="1" height="29" fill="#089981"/>
<rect x="1105" y="590" width="5" height="22" fill="#089981"/>
<rect x="1113" y="590" width="1" height="25" fill="#f23645"/>
<rect x="1111" y="591" width="5" height="22" fill="#f23645"/>
<rect x="1118" y="588" width="1" height="27" fill="#089981"/>
<rect x="1116" y="603" width="5" height="10" fill="#089981"/>
<rect x="1124" y="589" width="1" height="17" fill="#089981"/>
<rect x="1122" y="594" width="5" height="10" fill="#089981"/>
<rect x="1130" y="579" width="1" height="16" fill="#089981"/>
<rect x="1128" y="582" width="5" height="13" fill="#089981"/>
<rect x="1136" y="561" width="1" height="32" fill="#089981"/>
<rect x="1134" y="562" width="5" height="21" fill="#089981"/>
<rect x="1141" y="554" width="1" height="23" fill="#f23645"/>
<rect x="1139" y="562" width="5" height="14" fill="#f23645"/>
<rect x="1147" y="575" width="1" height="26" fill="#f23645"/>
<rect x="1145" y="575" width="5" height="15" fill="#f23645"/>
<rect x="1153" y="573" width="1" height="28" fill="#089981"/>
<rect x="1151" y="582" width="5" height="8" fill="#089981"/>
<rect x="1159" y="566" width="1" height="22" fill="#089981"/>
<rect x="1157" y="572" width="5" height="11" fill="#089981"/>
<rect x="1164" y="557" width="1" height="18" fill="#089981"/>
<rect x="1162" y="558" width="5" height="15" fill="#089981"/>
<rect x="1170" y="555" width="1" height="24" fill="#f23645"/>
<rect x="1168" y="558" width="5" height="21" fill="#f23645"/>
<rect x="1176" y="562" width="1" height="23" fill="#089981"/>
<rect x="1174" y="569" width="5" height="10" fill="#089981"/>
<rect x="1182" y="560" width="1" height="30" fill="#f23645"/>
<rect x="1180" y="569" width="5" height="17" fill="#f23645"/>
<rect x="1187" y="565" width="1" height="23" fill="#089981"/>
<rect x="1185" y="567" width="5" height="19" fill="#089981"/>
<rect x="1193" y="559" width="1" height="24" fill="#f23645"/>
<rect x="1191" y="567" width="5" height="12" fill="#f23645"/>
<rect x="1199" y="539" width="1" height="40" fill="#089981"/>
<rect x="1197" y="541" width="5" height="38" fill="#089981"/>
<rect x="1205" y="519" width="1" height="23" fill="#f23645"/>
<rect x="1203" y="541" width="5" height="1" fill="#f23645"/>
<rect x="1210" y="527" width="1" height="21" fill="#089981"/>
<rect x="1208" y="535" width="5" height="7" fill="#089981"/>
<rect x="1216" y="528" width="1" height="16" fill="#089981"/>
<rect x="1214" y="533" width="5" height="3" fill="#089981"/>
<rect x="1222" y="516" width="1" height="21" fill="#089981"/>
<rect x="1220" y="526" width="5" height="7" fill="#089981"/>
<rect x="1228" y="503" width="1" height="26" fill="#089981"/>
<rect x="1226" y="514" width="5" height="13" fill="#089981"/>
<rect x="1233" y="513" width="1" height="26" fill="#f23645"/>
<rect x="1231" y="514" width="5" height="11" fill="#f23645"/>
<rect x="1239" y="466" width="1" height="67" fill="#f23645"/>
<rect x="1237" y="524" width="5" height="3" fill="#f23645"/>
<rect x="1245" y="522" width="1" height="15" fill="#f23645"/>
<rect x="1243" y="526" width="5" height="9" fill="#f23645"/>
<rect x="1251" y="525" width="1" height="13" fill="#f23645"/>
<rect x="1249" y="533" width="5" height="5" fill="#f23645"/>
</g>
<line x1="13" y1="537.5" x2="1448" y2="537.5" stroke="#f23645" stroke-width="1" stroke-dasharray="1 2" shape-rendering="crispEdges"/>
<rect x="13" y="34" width="1527" height="693.5" fill="none" stroke="#f0f0f1" stroke-width="2"/>
<text x="13.4" y="25" font-family="Liberation Sans, sans-serif" font-size="15" fill="#15171d" textLength="509.0" lengthAdjust="spacingAndGlyphs">ParshwaTurakhiya28 published on TradingView.com, Jun 04, 2025 09:25 UTC</text>
<text x="23.2" y="58.7" font-family="Liberation Sans, sans-serif" font-size="14" fill="#15171d" textLength="154.0" lengthAdjust="spacingAndGlyphs">Big Time · 4h · CRYPTO</text>
<text x="187.3" y="58.7" font-family="Liberation Sans, sans-serif" font-size="14" fill="#15171d" textLength="9.7" lengthAdjust="spacingAndGlyphs">O</text>
<text x="197" y="58.7" font-family="Liberation Sans, sans-serif" font-size="14" fill="#f23645" textLength="59.8" lengthAdjust="spacingAndGlyphs">0.064485</text>
<text x="266.6" y="58.7" font-family="Liberation Sans, sans-serif" font-size="14" fill="#15171d" textLength="9.8" lengthAdjust="spacingAndGlyphs">H</text>
<text x="276.4" y="58.7" font-family="Liberation Sans, sans-serif" font-size="14" fill="#f23645" textLength="59.7" lengthAdjust="spacingAndGlyphs">0.065049</text>
<text x="346.4" y="58.7" font-family="Liberation Sans, sans-serif" font-size="14" fill="#15171d" textLength="7.8" lengthAdjust="spacingAndGlyphs">L</text>
<text x="354.2" y="58.7" font-family="Liberation Sans, sans-serif" font-size="14" fill="#f23645" textLength="59.7" lengthAdjust="spacingAndGlyphs">0.064207</text>
<text x="423.3" y="58.7" font-family="Liberation Sans, sans-serif" font-size="14" fill="#15171d" textLength="8.2" lengthAdjust="spacingAndGlyphs">C</text>
<text x="431.5" y="58.7" font-family="Liberation Sans, sans-serif" font-size="14" fill="#f23645" textLength="60.5" lengthAdjust="spacingAndGlyphs">0.064285</text>
<text x="501.6" y="58.7" font-family="Liberation Sans, sans-serif" font-size="14" fill="#f23645" textLength="129.5" lengthAdjust="spacingAndGlyphs">−0.000198 (−0.31%)</text>
<text x="23.2" y="79.8" font-family="Liberation Sans, sans-serif" font-size="14" fill="#15171d" textLength="297.5" lengthAdjust="spacingAndGlyphs">LuxAlgo - Trendlines with Breaks (14, 1, Atr)</text>
<text x="330.5" y="79.8" font-family="Liberation Sans, sans-serif" font-size="14" fill="#00897b" textLength="59.7" lengthAdjust="spacingAndGlyphs">0.073326</text>
<text x="400" y="79.8" font-family="Liberation Sans, sans-serif" font-size="14" fill="#ff5252" textLength="59.8" lengthAdjust="spacingAndGlyphs">0.059365</text>
<text x="469.6" y="79.8" font-family="Liberation Sans, sans-serif" font-size="16.5" fill="#15171d" textLength="7.8" lengthAdjust="spacingAndGlyphs">ø</text>
<text x="488.7" y="79.8" font-family="Liberation Sans, sans-serif" font-size="16.5" fill="#15171d" textLength="7.7" lengthAdjust="spacingAndGlyphs">ø</text>
<text x="23.2" y="100.7" font-family="Liberation Sans, sans-serif" font-size="14" fill="#15171d" textLength="391.6" lengthAdjust="spacingAndGlyphs">SRchannel (10, High/Low, 5, 1, 6, 290, 50, SMA, 200, SMA)</text>
<text x="425" y="100.7" font-family="Liberation Sans, sans-serif" font-size="16.5" fill="#15171d" textLength="8.3" lengthAdjust="spacingAndGlyphs">ø</text>
<text x="443.9" y="100.7" font-family="Liberation Sans, sans-serif" font-size="16.5" fill="#15171d" textLength="8.7" lengthAdjust="spacingAndGlyphs">ø</text>
<text x="463.2" y="100.7" font-family="Liberation Sans, sans-serif" font-size="14" fill="#2196f3" textLength="59.2" lengthAdjust="spacingAndGlyphs">0.000000</text>
<text x="533.2" y="100.7" font-family="Liberation Sans, sans-serif" font-size="14" fill="#2196f3" textLength="59.3" lengthAdjust="spacingAndGlyphs">0.000000</text>
<text x="602.3" y="100.7" font-family="Liberation Sans, sans-serif" font-size="14" fill="#00e676" textLength="59.7" lengthAdjust="spacingAndGlyphs">0.000000</text>
<text x="672.3" y="100.7" font-family="Liberation Sans, sans-serif" font-size="14" fill="#ff5252" textLength="59.3" lengthAdjust="spacingAndGlyphs">0.000000</text>
<text x="1459.4" y="131.1" font-family="Liberation Sans, sans-serif" font-size="16" fill="#15171d" textLength="60.6" lengthAdjust="spacingAndGlyphs">0.090000</text>
<text x="1459.4" y="211.1" font-family="Liberation Sans, sans-serif" font-size="16" fill="#15171d" textLength="60.6" lengthAdjust="spacingAndGlyphs">0.085000</text>
<text x="1459.4" y="291.1" font-family="Liberation Sans, sans-serif" font-size="16" fill="#15171d" textLength="60.6" lengthAdjust="spacingAndGlyphs">0.080000</text>
<text x="1459.4" y="371.1" font-family="Liberation Sans, sans-serif" font-size="16" fill="#15171d" textLength="60.6" lengthAdjust="spacingAndGlyphs">0.075000</text>
<text x="1459.4" y="450.1" font-family="Liberation Sans, sans-serif" font-size="16" fill="#15171d" textLength="60.6" lengthAdjust="spacingAndGlyphs">0.070000</text>
<text x="1459.4" y="530.1" font-family="Liberation Sans, sans-serif" font-size="16" fill="#15171d" textLength="60.6" lengthAdjust="spacingAndGlyphs">0.065000</text>
<text x="1459.4" y="610.1" font-family="Liberation Sans, sans-serif" font-size="16" fill="#15171d" textLength="60.6" lengthAdjust="spacingAndGlyphs">0.060000</text>
<text x="1459.4" y="690.1" font-family="Liberation Sans, sans-serif" font-size="16" fill="#15171d" textLength="60.6" lengthAdjust="spacingAndGlyphs">0.055000</text>
<rect x="1452.5" y="39.2" width="83" height="31.5" rx="4" fill="#fff" stroke="#efeff1" stroke-width="1.4"/>
<text x="1464.1" y="60.1" font-family="Liberation Sans, sans-serif" font-size="14" fill="#15171d" textLength="26.0" lengthAdjust="spacingAndGlyphs">USD</text>
<rect x="1449" y="382" width="78" height="20.30000000000001" rx="2" fill="#00897b"/>
<text x="1459.7" y="398.34999999999997" font-family="Liberation Sans, sans-serif" font-size="16" fill="#fff" textLength="60.6" lengthAdjust="spacingAndGlyphs">0.073326</text>
<rect x="1449" y="527" width="74.59999999999991" height="21" rx="2" fill="#f23645"/>
<text x="1460" y="543.7" font-family="Liberation Sans, sans-serif" font-size="16" fill="#ffe3e5" textLength="58.5" lengthAdjust="spacingAndGlyphs">02:34:46</text>
<rect x="1449" y="605" width="78" height="20.799999999999955" rx="2" fill="#ff5252"/>
<text x="1460" y="621.6" font-family="Liberation Sans, sans-serif" font-size="16" fill="#fff" textLength="60.5" lengthAdjust="spacingAndGlyphs">0.059365</text>
<text x="67.5" y="715.6" font-family="Liberation Sans, sans-serif" font-size="14.5" fill="#15171d" font-weight="bold" text-anchor="middle">May</text>
<text x="136.5" y="715.6" font-family="Liberation Sans, sans-serif" font-size="14.5" fill="#15171d" text-anchor="middle">3</text>
<text x="205.5" y="715.6" font-family="Liberation Sans, sans-serif" font-size="14.5" fill="#15171d" text-anchor="middle">5</text>
<text x="274.5" y="715.6" font-family="Liberation Sans, sans-serif" font-size="14.5" fill="#15171d" text-anchor="middle">7</text>
<text x="343.5" y="715.6" font-family="Liberation Sans, sans-serif" font-size="14.5" fill="#15171d" text-anchor="middle">9</text>
<text x="412.5" y="715.6" font-family="Liberation Sans, sans-serif" font-size="14.5" fill="#15171d" text-anchor="middle">11</text>
<text x="481.5" y="715.6" font-family="Liberation Sans, sans-serif" font-size="14.5" fill="#15171d" text-anchor="middle">13</text>
<text x="550.5" y="715.6" font-family="Liberation Sans, sans-serif" font-size="14.5" fill="#15171d" text-anchor="middle">15</text>
<text x="619.5" y="715.6" font-family="Liberation Sans, sans-serif" font-size="14.5" fill="#15171d" text-anchor="middle">17</text>
<text x="687.5" y="715.6" font-family="Liberation Sans, sans-serif" font-size="14.5" fill="#15171d" text-anchor="middle">19</text>
<text x="756.5" y="715.6" font-family="Liberation Sans, sans-serif" font-size="14.5" fill="#15171d" text-anchor="middle">21</text>
<text x="825.5" y="715.6" font-family="Liberation Sans, sans-serif" font-size="14.5" fill="#15171d" text-anchor="middle">23</text>
<text x="894.5" y="715.6" font-family="Liberation Sans, sans-serif" font-size="14.5" fill="#15171d" text-anchor="middle">25</text>
<text x="963.5" y="715.6" font-family="Liberation Sans, sans-serif" font-size="14.5" fill="#15171d" text-anchor="middle">27</text>
<text x="1032.5" y="715.6" font-family="Liberation Sans, sans-serif" font-size="14.5" fill="#15171d" text-anchor="middle">29</text>
<text x="1136.5" y="715.6" font-family="Liberation Sans, sans-serif" font-size="14.5" fill="#15171d" font-weight="bold" text-anchor="middle">Jun</text>
<text x="1205.5" y="715.6" font-family="Liberation Sans, sans-serif" font-size="14.5" fill="#15171d" text-anchor="middle">3</text>
<text x="1274.5" y="715.6" font-family="Liberation Sans, sans-serif" font-size="14.5" fill="#15171d" text-anchor="middle">5</text>
<text x="1342.5" y="715.6" font-family="Liberation Sans, sans-serif" font-size="14.5" fill="#15171d" text-anchor="middle">7</text>
<text x="1411.5" y="715.6" font-family="Liberation Sans, sans-serif" font-size="14.5" fill="#15171d" text-anchor="middle">9</text>
<g fill="#15171d"><path d="M13.1,743.7 H22.9 V755.8 H18 V748.9 H13.1 Z"/><circle cx="27" cy="746.5" r="2.9"/><path d="M32.2,743.7 H37.4 L32.4,755.8 H27 Z"/></g>
<text x="41.7" y="755.8" font-family="Liberation Sans, sans-serif" font-size="15" fill="#15171d" textLength="88.0" lengthAdjust="spacingAndGlyphs">TradingView</text>
</svg>
</body></html>
